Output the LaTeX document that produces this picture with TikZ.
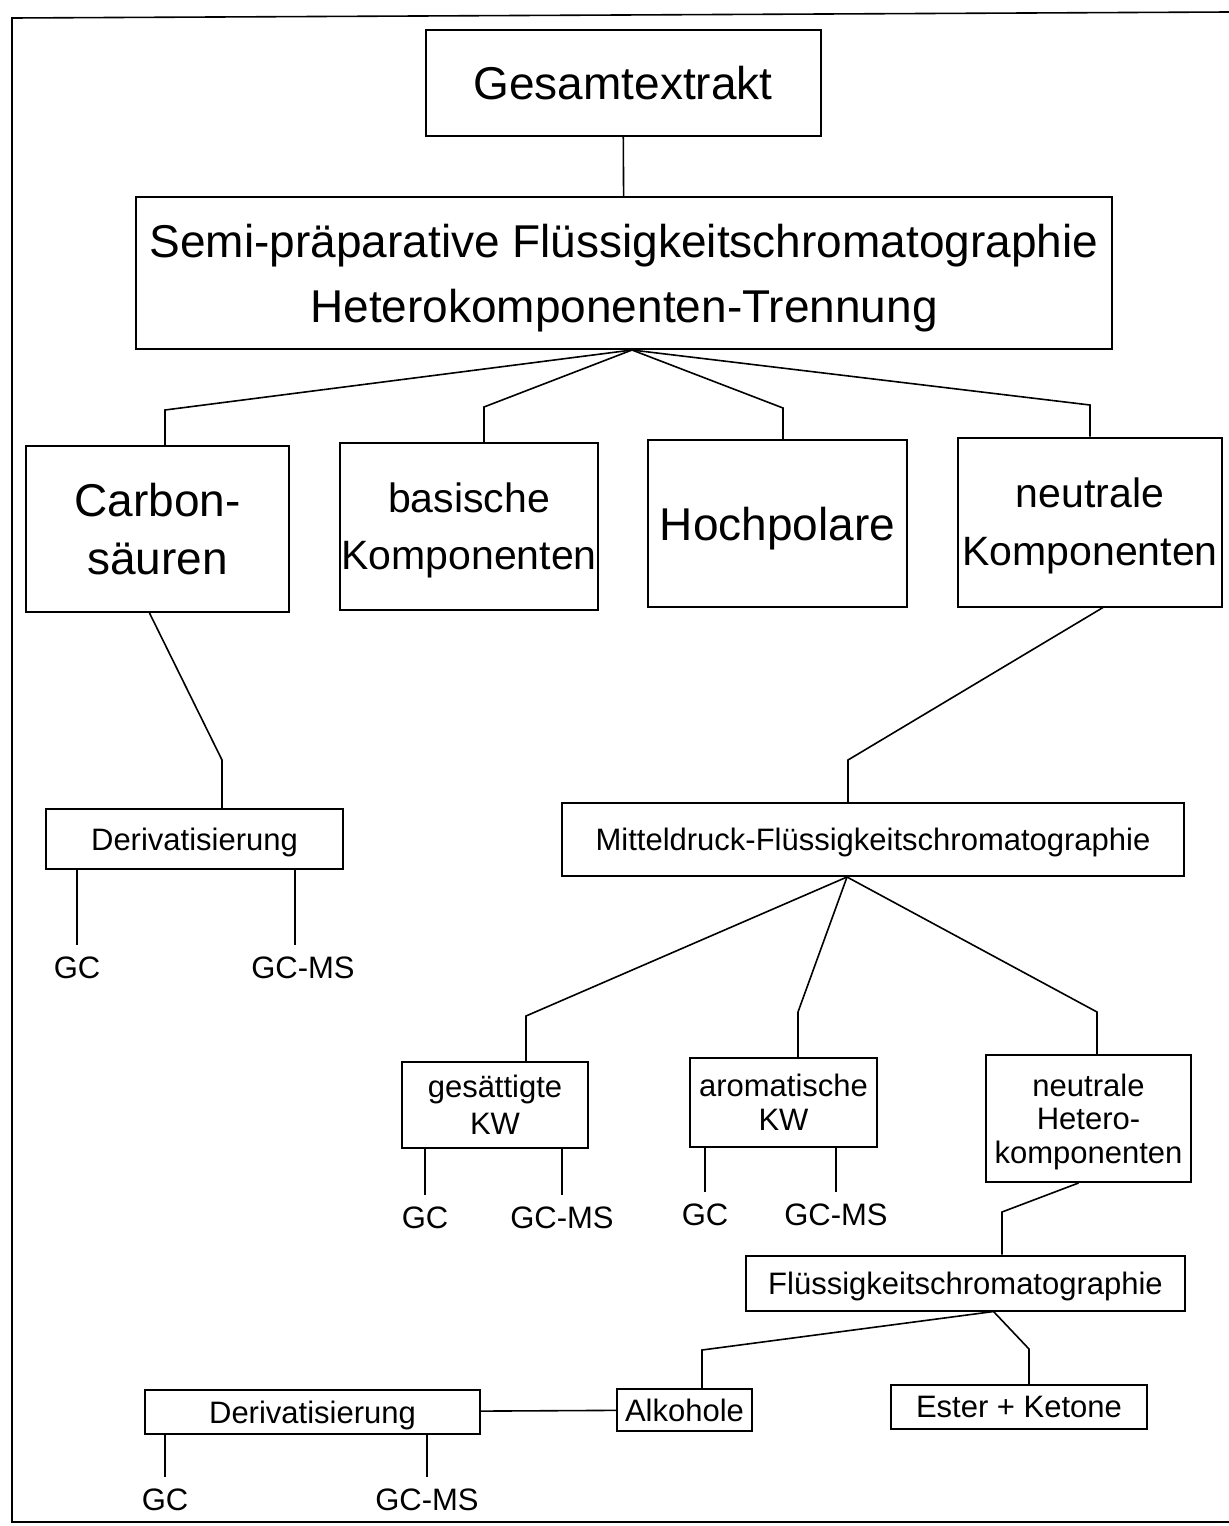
\documentclass[tikz,border=0pt]{standalone}
\usepackage{fontspec}
\setmainfont{Liberation Sans}
\usepackage{tikz}
\tikzstyle{bigbox} = [draw,line width=1pt,inner sep=0pt,align=center,text depth=0pt,font=\fontsize{23}{32.5}\selectfont]
\tikzstyle{midbox} = [draw,line width=1pt,inner sep=0pt,align=center,text depth=0pt,font=\fontsize{20.5}{28.5}\selectfont]
\tikzstyle{smallbox} = [draw,line width=1pt,inner sep=0pt,align=center,text depth=0pt,font=\fontsize{15.5}{18}\selectfont]
\tikzstyle{lbl} = [inner sep=0pt,outer sep=6pt,font=\fontsize{15.5}{18}\selectfont]
\tikzstyle{link} = [line width=0.8pt]

\begin{document}
\begin{tikzpicture}[x=0.5pt,y=-0.5pt]
      \useasboundingbox (0,0) rectangle (1229,1526);
      \draw[line width=0.8pt](1229,12)--(12,18)--(12,1522)--(1229,1522);
      % top
      \node[bigbox,minimum width=197.5pt,minimum height=53pt](gesamt) at (623,83){Gesamtextrakt};
      \node[bigbox,minimum width=488pt,minimum height=76pt](semi) at (624,273){Semi-präparative Flüssigkeitschromatographie\\Heterokomponenten-Trennung};
      \draw[link](gesamt)--(semi);
      % fractions
      \node[bigbox,font=\fontsize{23}{29}\selectfont,minimum width=131.5pt,minimum height=83pt](carbon) at (157.5,529){Carbon-\\säuren};
      \node[midbox,minimum width=129pt,minimum height=83.5pt](basisch) at (469,526.5){basische\\Komponenten};
      \node[bigbox,minimum width=129.5pt,minimum height=83.5pt](hoch) at (777.5,523.5){Hochpolare};
      \node[midbox,font=\fontsize{20.5}{29}\selectfont,minimum width=132pt,minimum height=84.5pt](neutral) at (1090,522){neutrale\\Komponenten};
      \coordinate(k1) at (165,410);
      \coordinate(k2) at (484,407);
      \coordinate(k3) at (783,408);
      \coordinate(k4) at (1090,405);
      \foreach \k/\n in {k1/carbon,k2/basisch,k3/hoch,k4/neutral}
        \draw[link]([xshift=4pt]semi.south)--(\k)--(\k |- \n.north);
      % Carbonsaeuren
      \node[smallbox,minimum width=148.5pt,minimum height=30pt](deriv1) at (194.5,839){Derivatisierung};
      \coordinate(c1) at (222,760);
      \draw[link]([xshift=-4pt]carbon.south)--(c1)--(c1 |- deriv1.north);
      \node[lbl](gc1) at (77,968){GC};
      \node[lbl](gcms1) at (303,968){GC-MS};
      \draw[link](gc1.north |- deriv1.south)--(gc1.north);
      \draw[link]([xshift=-4pt]gcms1.north |- deriv1.south)--([xshift=-4pt]gcms1.north);
      % neutrale Komponenten
      \node[smallbox,minimum width=311pt,minimum height=36.5pt](mittel) at (873,839.5){Mitteldruck-Flüssigkeitschromatographie};
      \coordinate(m1) at (848,760);
      \draw[link]([xshift=6.5pt]neutral.south)--(m1)--(m1 |- mittel.north);
      \node[smallbox,font=\fontsize{15.5}{18.5}\selectfont,minimum width=93pt,minimum height=43pt](gesaett) at (495,1105){gesättigte\\KW};
      \node[smallbox,font=\fontsize{15.5}{17}\selectfont,minimum width=93.5pt,minimum height=44.5pt](aromat) at (783.5,1102.5){aromatische\\KW};
      \node[smallbox,font=\fontsize{15.5}{16.75}\selectfont,minimum width=102.5pt,minimum height=63.5pt](hetero) at (1088.5,1118.5){neutrale\\Hetero-\\komponenten};
      \coordinate(b1) at (526,1016);
      \coordinate(b2) at (798,1012);
      \coordinate(b3) at (1097,1012);
      \foreach \b/\n in {b1/gesaett,b2/aromat,b3/hetero}
        \draw[link]([xshift=-13pt]mittel.south)--(\b)--(\b |- \n.north);
      \node[lbl](gc2) at (425,1218){GC};
      \node[lbl](gcms2) at (562,1218){GC-MS};
      \node[lbl](gc3) at (705,1215){GC};
      \node[lbl](gcms3) at (836,1215){GC-MS};
      \foreach \g/\n in {gc2/gesaett,gcms2/gesaett,gc3/aromat,gcms3/aromat}
        \draw[link](\g.north |- \n.south)--(\g.north);
      % Heterokomponenten
      \node[smallbox,minimum width=219.5pt,minimum height=27.5pt](fluessig) at (965.5,1283){Flüssigkeitschromatographie};
      \coordinate(h1) at (1002,1212);
      \draw[link]([xshift=-5pt]hetero.south)--(h1)--(h1 |- fluessig.north);
      \node[smallbox,minimum width=67.5pt,minimum height=21pt](alkohole) at (684.5,1410){Alkohole};
      \node[smallbox,minimum width=128pt,minimum height=22pt](ester) at (1019,1407){Ester + Ketone};
      \coordinate(a1) at (702,1350);
      \coordinate(e1) at (1029,1349);
      \draw[link]([xshift=14pt]fluessig.south)--(a1)--(a1 |- alkohole.north);
      \draw[link]([xshift=14pt]fluessig.south)--(e1)--(e1 |- ester.north);
      \node[smallbox,minimum width=167.5pt,minimum height=22pt](deriv2) at (312.5,1412){Derivatisierung};
      \draw[link](deriv2)--(alkohole);
      \node[lbl](gc4) at (165,1500){GC};
      \node[lbl](gcms4) at (427,1500){GC-MS};
      \draw[link](gc4.north |- deriv2.south)--(gc4.north);
      \draw[link](gcms4.north |- deriv2.south)--(gcms4.north);
    \end{tikzpicture}
\end{document}
